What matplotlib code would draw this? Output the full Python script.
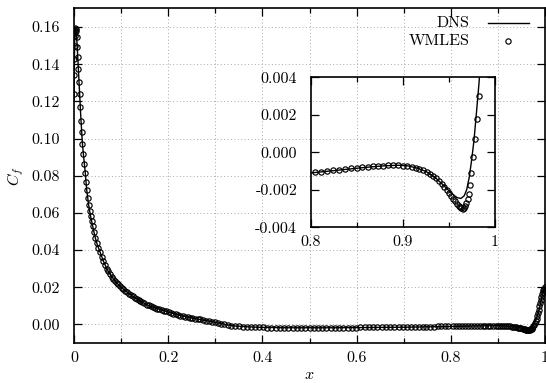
#!/usr/bin/env python

import numpy as np
import matplotlib

matplotlib.use("Agg")
import matplotlib.pyplot as plt
from matplotlib.ticker import MultipleLocator, FixedLocator

plt.rcParams["font.family"] = ["cmr10", "DejaVu Serif"]
plt.rcParams["mathtext.fontset"] = "cm"
plt.rcParams["axes.unicode_minus"] = False

# WMLES skin friction
wmles_x = [
    0.0005, 0.0007, 0.0009, 0.0011, 0.0013, 0.0016, 0.0020,
    0.0035, 0.0049, 0.0058, 0.0066, 0.0076, 0.0090, 0.0105, 0.0118, 0.0134, 0.0149,
    0.0163, 0.0177, 0.0198, 0.0219, 0.0240, 0.0255, 0.0270, 0.0290, 0.0312, 0.0333,
    0.0354, 0.0375, 0.0396, 0.0425, 0.0453,
    0.0485, 0.0520, 0.0555, 0.0590, 0.0625, 0.0660, 0.0695, 0.0730, 0.0765, 0.0800,
    0.0835, 0.0870, 0.0905, 0.0940, 0.0975, 0.1010, 0.1050, 0.1090, 0.1130, 0.1170,
    0.1210, 0.1250, 0.1290, 0.1330, 0.1370, 0.1410, 0.1450, 0.1495, 0.1540, 0.1585,
    0.1630, 0.1675, 0.1720, 0.1765, 0.1810, 0.1860, 0.1910, 0.1960, 0.2010, 0.2060,
    0.2110, 0.2160, 0.2210, 0.2260, 0.2310, 0.2360, 0.2410, 0.2460, 0.2515, 0.2570,
    0.2625, 0.2680, 0.2740, 0.2800, 0.2860, 0.2920, 0.2985, 0.3050, 0.3120, 0.3190,
    0.3260, 0.3340, 0.3420, 0.3500, 0.3585, 0.3670, 0.3755, 0.3840, 0.3925, 0.4010,
    0.4100, 0.4190, 0.4280, 0.4370, 0.4460, 0.4550, 0.4640, 0.4730, 0.4820, 0.4910,
    0.5000, 0.5090, 0.5180, 0.5270, 0.5360, 0.5450, 0.5540, 0.5630, 0.5720, 0.5810,
    0.5900, 0.5990, 0.6080, 0.6170, 0.6260, 0.6350, 0.6440, 0.6530, 0.6620, 0.6710,
    0.6800, 0.6890, 0.6975, 0.7060, 0.7145, 0.7230, 0.7315, 0.7400, 0.7480, 0.7560,
    0.7640, 0.7720, 0.7800, 0.7870, 0.7940,
    0.8043, 0.8109, 0.8178, 0.8243, 0.8308, 0.8373, 0.8435, 0.8496, 0.8558, 0.8616,
    0.8674, 0.8732, 0.8786, 0.8841, 0.8895, 0.8949, 0.9000, 0.9047, 0.9094, 0.9138,
    0.9178, 0.9217, 0.9257, 0.9293, 0.9326, 0.9359, 0.9391, 0.9420, 0.9449, 0.9475,
    0.9500, 0.9525, 0.9547, 0.9569, 0.9587, 0.9605, 0.9620, 0.9634, 0.9649, 0.9663,
    0.9676, 0.9689, 0.9704, 0.9717, 0.9730, 0.9743, 0.9760, 0.9780, 0.9800, 0.9822,
    0.9840, 0.9855, 0.9868, 0.9881, 0.9894, 0.9907, 0.9920, 0.9934, 0.9949, 0.9965,
    0.9982, 0.9997,
]
wmles_cf = [
    0.1239, 0.1342, 0.1427, 0.1500, 0.1553, 0.1580, 0.1593,
    0.1590, 0.1578, 0.1545, 0.1494, 0.1441, 0.1374, 0.1306, 0.1239, 0.1169, 0.1096,
    0.1033, 0.0972, 0.0916, 0.0863, 0.0814, 0.0768, 0.0725, 0.0680, 0.0644, 0.0612,
    0.0581, 0.0555, 0.0528, 0.0496, 0.0465,
    0.0438, 0.0413, 0.0390, 0.0365, 0.0340, 0.0320, 0.0300, 0.0285, 0.0271, 0.0257,
    0.0243, 0.0233, 0.0224, 0.0215, 0.0206, 0.0198, 0.0189, 0.0181, 0.0173, 0.0165,
    0.0158, 0.0151, 0.0144, 0.0137, 0.0131, 0.0125, 0.0119, 0.0113, 0.0107, 0.0102,
    0.0097, 0.0093, 0.0089, 0.0085, 0.0082, 0.0078, 0.0074, 0.0070, 0.0066, 0.0062,
    0.0058, 0.0055, 0.0051, 0.0048, 0.0045, 0.0042, 0.0039, 0.0036, 0.0034, 0.0031,
    0.0029, 0.0027, 0.0024, 0.0021, 0.0018, 0.0015, 0.0012, 0.0008, 0.0004, 0.0000,
    -0.0004, -0.0007, -0.0009, -0.0011, -0.0012, -0.0013, -0.0014, -0.0015, -0.0016, -0.0016,
    -0.0017, -0.0017, -0.0018, -0.0018, -0.0018, -0.0018, -0.0018, -0.0018, -0.0018, -0.0018,
    -0.0018, -0.0018, -0.0018, -0.0018, -0.0018, -0.0018, -0.0017, -0.0017, -0.0017, -0.0017,
    -0.0017, -0.0017, -0.0016, -0.0016, -0.0016, -0.0016, -0.0016, -0.0015, -0.0015, -0.0015,
    -0.0015, -0.0014, -0.0014, -0.0014, -0.0013, -0.0013, -0.0013, -0.0013, -0.0012, -0.0012,
    -0.0012, -0.0011, -0.0011, -0.0011, -0.0011,
    -0.00107, -0.00103, -0.00100, -0.00096, -0.00092, -0.00089, -0.00085, -0.00082, -0.00078, -0.00076,
    -0.00075, -0.00073, -0.00071, -0.00069, -0.00069, -0.00069, -0.00071, -0.00073, -0.00076, -0.00082,
    -0.00089, -0.00096, -0.00105, -0.00116, -0.00126, -0.00139, -0.00153, -0.00167, -0.00183, -0.00199,
    -0.00215, -0.00231, -0.00247, -0.00261, -0.00274, -0.00284, -0.00293, -0.00299, -0.00300, -0.00295,
    -0.00288, -0.00272, -0.00251, -0.00222, -0.00174, -0.00108, -0.00027, 0.00069, 0.00178, 0.00302,
    0.0045, 0.0062, 0.0080, 0.0098, 0.0116, 0.0133, 0.0149, 0.0163, 0.0175, 0.0185,
    0.0193, 0.0199,
]

# DNS skin friction
dns_x = [
    0.0003, 0.0008, 0.0015, 0.0025, 0.0040, 0.0060, 0.0080, 0.0100, 0.0120, 0.0140,
    0.0160, 0.0180, 0.0210, 0.0240, 0.0270, 0.0310, 0.0350, 0.0400, 0.0450, 0.0500,
    0.0550, 0.0620, 0.0700, 0.0800, 0.0900, 0.1000, 0.1150, 0.1300, 0.1450, 0.1600,
    0.1800, 0.2000, 0.2200, 0.2400, 0.2600, 0.2800, 0.3000, 0.3200, 0.3400, 0.3700,
    0.4000, 0.4500, 0.5000, 0.5500, 0.6000, 0.6500, 0.7000, 0.7500, 0.8000, 0.8300,
    0.8600, 0.8800, 0.8950, 0.9050, 0.9150, 0.9250, 0.9350, 0.9450, 0.9500, 0.9550,
    0.9590, 0.9630, 0.9665, 0.9692, 0.9721, 0.9746, 0.9772, 0.9801, 0.9826, 0.9860,
    0.9900, 0.9940, 0.9970, 1.0000,
]
dns_cf = [
    0.1200, 0.1400, 0.1550, 0.1595, 0.1590, 0.1530, 0.1440, 0.1340, 0.1240, 0.1140,
    0.1050, 0.0970, 0.0890, 0.0815, 0.0725, 0.0645, 0.0585, 0.0525, 0.0468, 0.0425,
    0.0392, 0.0343, 0.0298, 0.0257, 0.0225, 0.0200, 0.0169, 0.0142, 0.0119, 0.0100,
    0.0083, 0.0067, 0.0052, 0.0040, 0.0030, 0.0021, 0.0011, 0.0000, -0.0008, -0.0013,
    -0.0016, -0.0018, -0.0018, -0.0018, -0.0017, -0.0016, -0.0015, -0.0013, -0.0011, -0.00095,
    -0.00080, -0.00072, -0.00069, -0.00072, -0.00084, -0.00102, -0.00135, -0.00180, -0.00205, -0.00228,
    -0.00242, -0.00246, -0.00232, -0.00200, -0.00130, -0.00041, 0.00066, 0.00226, 0.00368, 0.0062,
    0.0110, 0.0155, 0.0182, 0.0200,
]

x_ticks = [0, 0.2, 0.4, 0.6, 0.8, 1.0]
x_ticklabels = ["0", "0.2", "0.4", "0.6", "0.8", "1"]
y_ticks = [0.00, 0.02, 0.04, 0.06, 0.08, 0.10, 0.12, 0.14, 0.16]
y_ticklabels = ["0.00", "0.02", "0.04", "0.06", "0.08", "0.10", "0.12", "0.14", "0.16"]
ins_x_ticks = [0.8, 0.9, 1.0]
ins_x_ticklabels = ["0.8", "0.9", "1"]
ins_y_ticks = [-0.004, -0.002, 0.0, 0.002, 0.004]
ins_y_ticklabels = ["-0.004", "-0.002", "0.000", "0.002", "0.004"]

fs = 11.5
mk = dict(linestyle="", marker="o", ms=3.8, mfc="none", mec="black", mew=0.85)

fg = plt.figure(figsize=(5.46, 3.83), dpi=100)
ax = fg.add_axes([0.1355, 0.1044, 0.8627, 0.8736])
ax.plot(dns_x, dns_cf, color="black", lw=1.0, zorder=3)
ax.plot(wmles_x, wmles_cf, zorder=4, **mk)
ax.set_xlim(0, 1)
ax.set_ylim(-0.01, 0.17)
ax.xaxis.set_major_locator(FixedLocator(x_ticks))
ax.set_xticklabels(x_ticklabels)
ax.xaxis.set_minor_locator(MultipleLocator(0.1))
ax.yaxis.set_major_locator(FixedLocator(y_ticks))
ax.set_yticklabels(y_ticklabels)
ax.tick_params(which="both", direction="in", top=True, right=True,
               labelsize=fs, width=0.9)
ax.tick_params(which="major", length=6)
ax.tick_params(which="minor", length=3.5)
ax.tick_params(axis="y", pad=10)
ax.tick_params(axis="x", which="both", pad=6)
ax.grid(which="both", axis="x", linestyle=(0, (1, 2.5)), color="#a8a8a8", lw=0.7)
ax.grid(which="major", axis="y", linestyle=(0, (1, 2.5)), color="#a8a8a8", lw=0.7)
for s in ax.spines.values():
    s.set_linewidth(1.2)
ax.set_xlabel("$x$", fontsize=fs, labelpad=2)
ax.set_ylabel("$C_f$", fontsize=fs, labelpad=4)

# key, gnuplot style: text right aligned, sample on the right
ax.text(0.84, 0.955, "DNS", transform=ax.transAxes, ha="right", va="center", fontsize=fs)
ax.text(0.84, 0.903, "WMLES", transform=ax.transAxes, ha="right", va="center", fontsize=fs)
ax.plot([0.878, 0.965], [0.955, 0.955], transform=ax.transAxes, color="black", lw=1.0)
ax.plot([0.921], [0.903], transform=ax.transAxes, **mk)

# inset
axi = fg.add_axes([0.5696, 0.4065, 0.337, 0.3917])
axi.patch.set_alpha(0)
axi.plot(dns_x, dns_cf, color="black", lw=1.0, zorder=3)
axi.plot(wmles_x, wmles_cf, zorder=4, **mk)
axi.set_xlim(0.8, 1.0)
axi.set_ylim(-0.004, 0.004)
axi.xaxis.set_major_locator(FixedLocator(ins_x_ticks))
axi.set_xticklabels(ins_x_ticklabels)
axi.xaxis.set_minor_locator(MultipleLocator(0.05))
axi.yaxis.set_major_locator(FixedLocator(ins_y_ticks))
axi.set_yticklabels(ins_y_ticklabels)
axi.tick_params(which="both", direction="in", top=True, right=True,
                labelsize=fs, width=0.9)
axi.tick_params(which="major", length=6)
axi.tick_params(which="minor", length=3.5)
axi.tick_params(axis="y", pad=10)
axi.tick_params(axis="x", which="both", pad=6)
for s in axi.spines.values():
    s.set_linewidth(1.2)

fg.savefig("out.png", dpi=100)
plt.close(fg)
